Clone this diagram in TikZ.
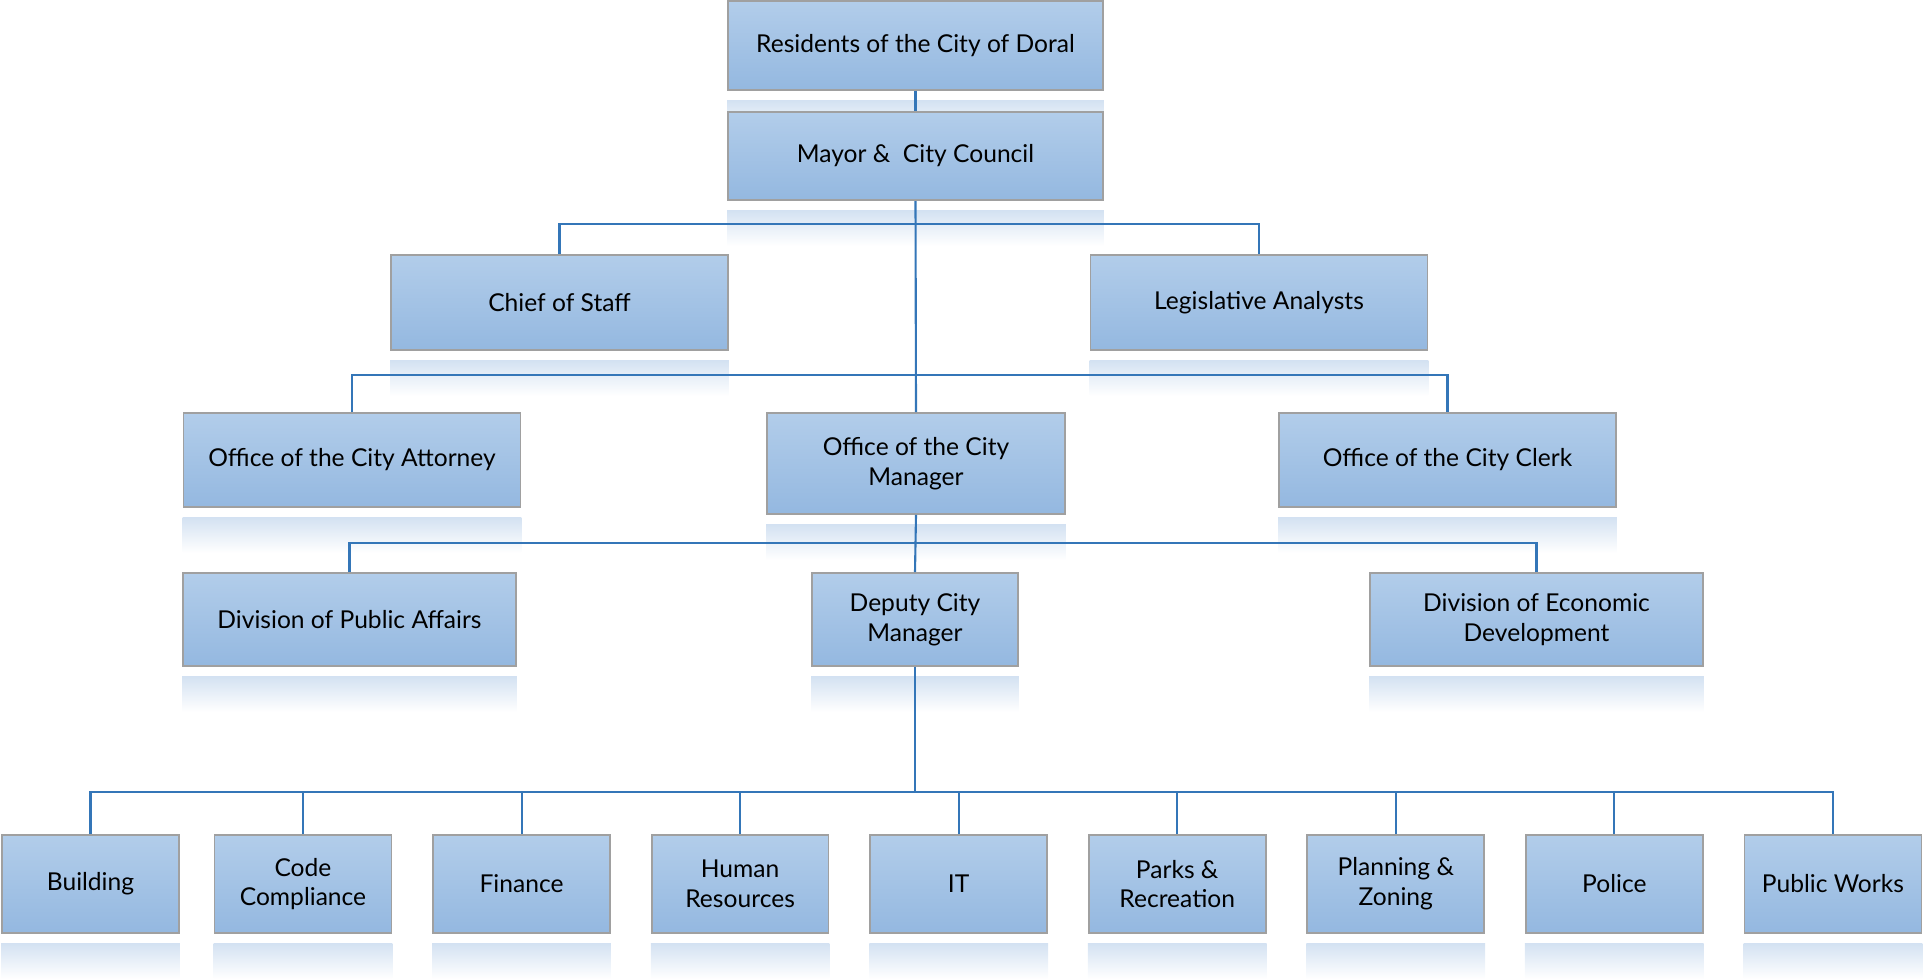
\documentclass[tikz,border=0pt]{standalone}
\usepackage{fontspec}
\setmainfont{Lato}
\usepackage{tikz}

\definecolor{boxtop}{RGB}{178,205,234}
\definecolor{boxbot}{RGB}{148,184,224}
\definecolor{boxrim}{RGB}{160,160,160}
\definecolor{linkblue}{RGB}{52,118,184}
\definecolor{mirror}{RGB}{212,226,242}

\tikzset{
  unit/.style={draw=boxrim, line width=1pt, top color=boxtop, bottom color=boxbot,
    align=center, inner sep=2pt, font=\fontsize{14}{17}\selectfont},
  wide/.style={unit, minimum width=6.74cm, minimum height=1.9cm},
  dept/.style={unit, minimum width=3.54cm, minimum height=1.96cm},
  link/.style={draw=linkblue, line width=1.2pt},
}

\begin{document}
\begin{tikzpicture}[x=0.02cm, y=-0.02cm, node distance=4.372cm]
	\useasboundingbox (0,0) rectangle (1923,979);

	\node[unit, minimum width=7.5cm, minimum height=1.78cm] (res) at (915.5,45.5) {Residents of the City of Doral};
	\node[unit, minimum width=7.5cm, minimum height=1.76cm] (mayor) at (915.5,156) {Mayor \&\ \ City Council};

	\node[wide] (chief) at (559.5,302.5) {Chief of Staff};
	\node[wide] (legis) at (1259,302.5) {Legislative Analysts};

	\node[wide, minimum height=1.88cm] (attorney) at (352,460) {Office of the City Attorney};
	\node[unit, minimum width=5.96cm, minimum height=2.02cm] (manager) at (916,463.5) {Office of the City\\Manager};
	\node[wide, minimum height=1.88cm] (clerk) at (1447.5,460) {Office of the City Clerk};

	\node[wide, minimum width=6.66cm, minimum height=1.86cm] (affairs) at (349.5,619.5) {Division of Public Affairs};
	\node[unit, minimum width=4.12cm, minimum height=1.86cm] (deputy) at (915,619.5) {Deputy City\\Manager};
	\node[wide, minimum width=6.66cm, minimum height=1.86cm] (econ) at (1536.5,619.5) {Division of Economic\\Development};

	\node[dept] (bldg) at (90.5,884) {Building};
	\node[dept] (code) at (303,884) {Code\\Compliance};
	\node[dept] (fin) [right of=code] {Finance};
	\node[dept] (hr) [right of=fin] {Human\\Resources};
	\node[dept] (it) [right of=hr] {IT};
	\node[dept] (parks) [right of=it] {Parks \&\\Recreation};
	\node[dept] (plan) [right of=parks] {Planning \&\\Zoning};
	\node[dept] (police) [right of=plan] {Police};
	\node[dept] (works) [right of=police] {Public Works};

	% faded mirror images under the boxes
	\foreach \b in {res,mayor,chief,legis,attorney,manager,clerk,affairs,deputy,econ,
	                bldg,code,fin,hr,it,parks,plan,police,works}
		\shade[top color=mirror, bottom color=white]
			([yshift=-0.2cm]\b.south west) rectangle ([yshift=-0.9cm]\b.south east);

	% bus lines
	\coordinate (bus1) at (915,224);
	\coordinate (bus2) at (915,375);
	\coordinate (bus3) at (915,543);
	\coordinate (bus4) at (915,792);

	\draw[link] (res.south) -- (mayor.north);
	\draw[link] (mayor.south) -- (manager.north);
	\draw[link] (chief.north) |- (bus1) -| (legis.north);
	\draw[link] (attorney.north) |- (bus2) -| (clerk.north);
	\draw[link] (manager.south) -- (deputy.north);
	\draw[link] (affairs.north) |- (bus3) -| (econ.north);
	\draw[link] (deputy.south) -- (bus4);
	\draw[link] (bldg.north) |- (bus4) -| (works.north);
	\foreach \d in {code,fin,hr,it,parks,plan,police}
		\draw[link] (\d.north) -- (\d.north |- bus4);

	% mayor box again, over the mirror of the residents box
	\node[unit, minimum width=7.5cm, minimum height=1.76cm] at (mayor) {Mayor \&\ \ City Council};
\end{tikzpicture}
\end{document}
